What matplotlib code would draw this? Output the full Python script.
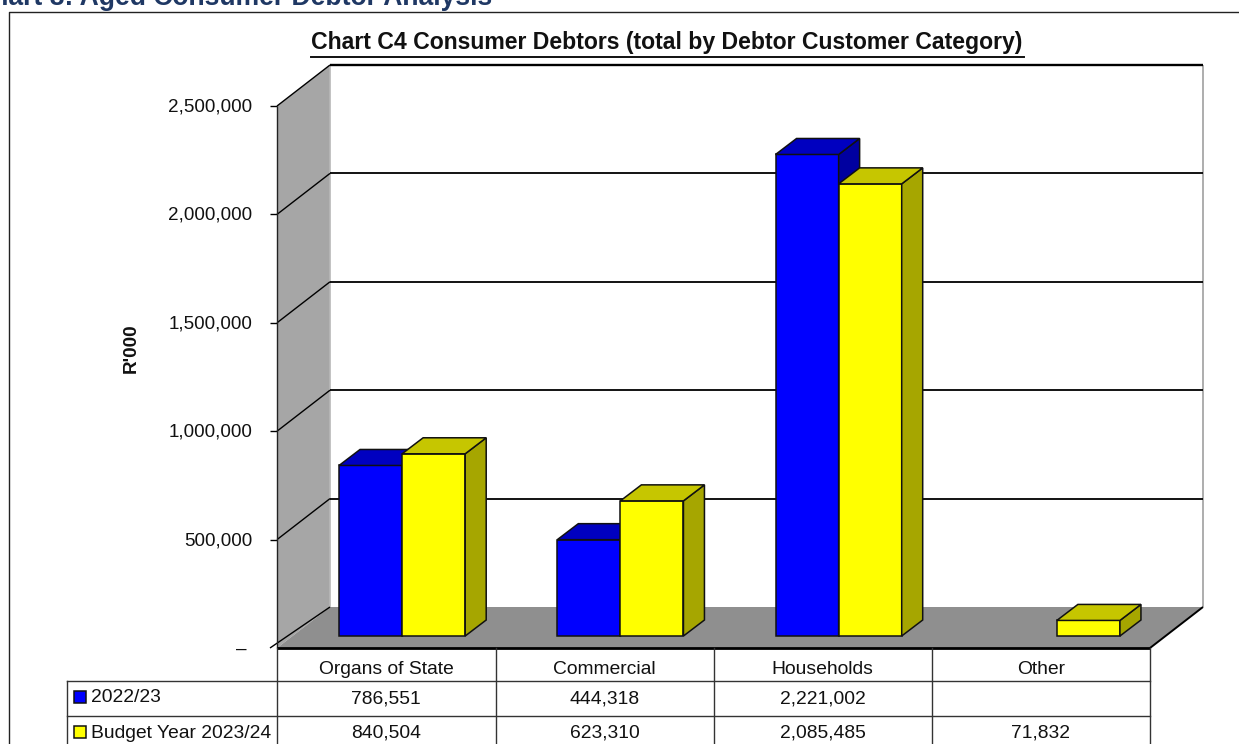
import matplotlib
matplotlib.use('Agg')
import matplotlib.pyplot as plt
from matplotlib.patches import Polygon
from matplotlib.transforms import Affine2D

plt.rcParams['font.family'] = ['Liberation Sans', 'DejaVu Sans']

categories = ['Organs of State', 'Commercial', 'Households', 'Other']
series_names = ['2022/23', 'Budget Year 2023/24']
values_2223 = [786551, 444318, 2221002, None]
values_2324 = [840504, 623310, 2085485, 71832]
y_ticks = [0, 500000, 1000000, 1500000, 2000000, 2500000]
y_tick_labels = ['–', '500,000', '1,000,000', '1,500,000', '2,000,000', '2,500,000']

W, H = 1239, 744
fig = plt.figure(figsize=(W / 100, H / 100), dpi=100)

# overlay in pixel coords for frame, table and labels
px = fig.add_axes([0, 0, 1, 1], zorder=3)
px.set_xlim(0, W)
px.set_ylim(H, 0)
px.axis('off')
px.patch.set_alpha(0)

# the chart itself: front plane of the 3d box
X0, X1, Y0, Y1 = 277, 1150, 648, 106
ax = fig.add_axes([X0 / W, 1 - Y0 / H, (X1 - X0) / W, (Y0 - Y1) / H], zorder=2)
ax.set_xlim(0, 4)
ax.set_ylim(0, 2500000)
ax.axis('off')

DX, DY = 53, 41  # box depth in pixels
BASE_DY = 12
BAR_DX, BAR_DY = 21, 16
BASE_DX = 16
BAR_W = 0.289
FS = 13.6
FS_TABLE = 13.9


def shifted(dx, dy):
    return ax.transData + Affine2D().translate(dx, dy)


def poly(pts, color, dx=0, dy=0, ec='none', lw=0, z=1):
    p = Polygon(pts, closed=True, facecolor=color, edgecolor=ec, linewidth=lw,
                transform=shifted(dx, dy), clip_on=False, zorder=z)
    ax.add_patch(p)


def line(xs, ys, dxs, dys, color='black', lw=1.1, z=2):
    # line from data points, each point with own pixel shift
    a = ax.transData.transform((xs[0], ys[0])) + (dxs[0], dys[0])
    b = ax.transData.transform((xs[1], ys[1])) + (dxs[1], dys[1])
    ax.plot([a[0], b[0]], [a[1], b[1]], color=color, lw=lw, transform=None,
            clip_on=False, zorder=z, solid_capstyle='butt')


top = y_ticks[-1]
# back wall
poly([(0, 0), (4, 0), (4, top), (0, top)], 'white', DX, DY, z=0)
# left wall
wall_px = [ax.transData.transform(p) for p in [(0, 0), (0, top)]]
wall = [wall_px[0], wall_px[1], wall_px[1] + (DX, DY), wall_px[0] + (DX, DY)]
ax.add_patch(Polygon(wall, closed=True, facecolor='#a6a6a6', edgecolor='none',
                     transform=None, clip_on=False, zorder=0.5))
line((0, 0), (0, top), (DX, DX), (DY, DY), color='#b8b8b8', lw=1.2, z=0.6)
line((4, 4), (0, top), (DX, DX), (DY, DY), color='#a0a0a0', lw=1.2, z=0.6)
# floor
fl = [ax.transData.transform(p) for p in [(0, 0), (4, 0)]]
floor = [fl[0], fl[1], fl[1] + (DX, DY), fl[0] + (DX, DY)]
ax.add_patch(Polygon(floor, closed=True, facecolor='#8f8f8f', edgecolor='none',
                     transform=None, clip_on=False, zorder=0.7))

# gridlines go along the back wall and down the left wall
for v in y_ticks[1:]:
    line((0, 4), (v, v), (DX, DX), (DY, DY), lw=1.7 if v == top else 1.3, z=0.8)
    line((0, 0), (v, v), (0, DX), (0, DY), lw=1.0, z=0.8)
    line((0, 0), (v, v), (-7, 0), (0, 0), lw=1.0, z=0.8)
line((0, 0), (0, 0), (-7, DX), (0, DY), lw=1.0, z=0.8)
line((0, 0), (0, top), (0, 0), (0, 0), color='#222222', lw=1.0, z=0.8)
line((0, 4), (0, 0), (0, 0), (0, 0), lw=2.0, z=0.9)
line((4, 4), (0, 0), (0, DX), (0, DY), lw=1.4, z=0.9)


def bar3d(x, v, front, side, topc, z):
    kw = dict(ec='#111111', lw=1.1, z=z)
    x2 = x + BAR_W
    sx, sy = BASE_DX, BASE_DY
    poly([(x, 0), (x2, 0), (x2, v), (x, v)], front, sx, sy, **kw)
    # side and top faces, depth added in pixels
    a = ax.transData.transform((x2, 0)) + (sx, sy)
    b = ax.transData.transform((x2, v)) + (sx, sy)
    c = ax.transData.transform((x, v)) + (sx, sy)
    d = (BAR_DX, BAR_DY)
    ax.add_patch(Polygon([a, b, b + d, a + d], closed=True, facecolor=side, edgecolor='#111111',
                         linewidth=1.1, transform=None, clip_on=False, zorder=z))
    ax.add_patch(Polygon([c, b, b + d, c + d], closed=True, facecolor=topc, edgecolor='#111111',
                         linewidth=1.1, transform=None, clip_on=False, zorder=z))


for i, (a, b) in enumerate(zip(values_2223, values_2324)):
    if a is not None:
        bar3d(i + 0.5 - BAR_W, a, '#0000ff', '#0000a0', '#0000c0', 3 + i)
    bar3d(i + 0.5, b, '#ffff00', '#a6a600', '#c6c600', 3.5 + i)

# y tick labels
for v, lab in zip(y_ticks, y_tick_labels):
    y = ax.transData.transform((0, v))[1]
    xr = 247 if v == 0 else 252
    px.text(xr, H - y + 1, lab, ha='right', va='center', fontsize=FS, color='#111111')

px.text(131, 348, "R'000", rotation=90, ha='center', va='center', fontsize=FS,
        fontweight='bold', color='#111111')

# titles
px.text(667, 42, 'Chart C4 Consumer Debtors (total by Debtor Customer Category)', ha='center',
        va='center', fontsize=16.6, fontweight='bold', color='#111111')
px.plot([311, 1024], [56.5, 56.5], color='#111111', lw=1.4)
px.text(492, 5, 'Chart 8: Aged Consumer Debtor Analysis', ha='right', va='baseline',
        fontsize=19.1, fontweight='bold', color='#1f3864')

# outer frame
px.plot([8.5, 8.5, 1239], [744, 11.5, 11.5], color='#222222', lw=1.0)

# data table
col_x = [277, 495.5, 713.5, 932, 1150]
px.plot([66.5, 1150], [680.5, 680.5], color='#333333', lw=1.0)
px.plot([66.5, 1150], [715.5, 715.5], color='#333333', lw=1.0)
px.plot([66.5, 66.5], [680.5, 744], color='#333333', lw=1.0)
for x in col_x:
    px.plot([x, x], [648, 744], color='#333333', lw=1.0)

for i, cat in enumerate(categories):
    cx = (col_x[i] + col_x[i + 1]) / 2
    px.text(cx, 669, cat, ha='center', va='center', fontsize=FS_TABLE, color='#111111')
    for vals, y in ((values_2223, 699), (values_2324, 733)):
        if vals[i] is not None:
            px.text(cx, y, f'{vals[i]:,}', ha='center', va='center', fontsize=FS_TABLE, color='#111111')

for name, y, c in ((series_names[0], 697, '#0000ff'), (series_names[1], 732, '#ffff00')):
    px.add_patch(Polygon([(74, y - 6), (86, y - 6), (86, y + 6), (74, y + 6)], closed=True,
                         facecolor=c, edgecolor='#111111', linewidth=1.1))
    px.text(91, y + 1, name, ha='left', va='center', fontsize=FS_TABLE, color='#111111')

fig.savefig('out.png', dpi=100)
